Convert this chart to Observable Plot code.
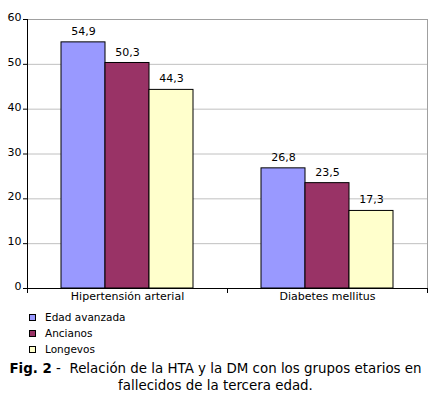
<!DOCTYPE html>
<html><head><meta charset="utf-8">
<script src="https://cdn.jsdelivr.net/npm/d3@7"></script>
<script src="https://cdn.jsdelivr.net/npm/@observablehq/plot@0.6"></script>
<style>
body{margin:0;background:#fff;font-family:"DejaVu Sans",Verdana,sans-serif;color:#000;}
#chart svg{display:block;}
#legend{margin-top:3px;}
.row{height:16px;display:flex;align-items:center;font-size:10.5px;}
.sw{width:5px;height:5px;border:1px solid #000;margin-left:29px;margin-right:9px;}
#cap{text-align:center;font-size:13.4px;line-height:17px;margin-top:3px;white-space:nowrap;}
</style></head><body>
<div id="chart"></div>
<div id="legend"></div>
<div id="cap"><b>Fig. 2</b> -&nbsp; Relación de la HTA y la DM con los grupos etarios en<br>fallecidos de la tercera edad.</div>
<script>
const categories = ["Hipertensión arterial", "Diabetes mellitus"];
const groups = ["Edad avanzada", "Ancianos", "Longevos"];
const hta = [54.9, 50.3, 44.3];
const dm = [26.8, 23.5, 17.3];
const colors = ["#9999ff", "#993366", "#ffffcc"];
const yTicks = [0, 10, 20, 30, 40, 50, 60];

const series = [hta, dm];
const data = categories.flatMap((c, i) => groups.map((g, j) => ({category: c, group: g, value: series[i][j]})));
const fmt = v => d3.format(".1f")(v).replace(".", ",");

const chart = Plot.plot({
  width: 431, height: 306,
  marginTop: 19, marginBottom: 18, marginLeft: 26, marginRight: 4,
  style: {fontFamily: "DejaVu Sans", fontSize: "11px", background: "#fff", color: "#000"},
  fx: {domain: categories, padding: 0},
  x: {domain: groups, paddingInner: 0, paddingOuter: 0.74, axis: null},
  y: {domain: [0, 60]},
  color: {domain: groups, range: colors},
  marks: [
    Plot.gridY(yTicks.slice(1, -1), {stroke: "#c0c0c0", strokeOpacity: 1}),
    Plot.ruleY([60], {stroke: "#a0a0a0"}),
    Plot.frame({anchor: "right", stroke: "#a0a0a0", fx: () => categories[1]}),
    Plot.barY(data, {fx: "category", x: "group", y: "value", fill: "group", stroke: "#000", strokeWidth: 1}),
    Plot.text(data, {fx: "category", x: "group", y: "value", text: d => fmt(d.value), dy: -11, fill: "#000"}),
    Plot.frame({anchor: "left", stroke: "#000", fx: () => categories[0]}),
    Plot.ruleY([0], {stroke: "#000"}),
    Plot.frame({anchor: "left", stroke: "#000", insetTop: 269, insetBottom: -4}),
    Plot.frame({anchor: "right", stroke: "#000", insetTop: 269, insetBottom: -4}),
    Plot.axisY({ticks: yTicks, tickSize: 4, tickFormat: () => "", label: null}),
    Plot.axisY({ticks: yTicks, tickSize: 0, tickPadding: 6, dy: -2, label: null}),
    Plot.axisFx({anchor: "bottom", tickSize: 0, tickPadding: 4, label: null})
  ]
});
document.getElementById("chart").appendChild(chart);

const legend = d3.select("#legend");
groups.forEach((g, i) => {
  const row = legend.append("div").attr("class", "row");
  row.append("div").attr("class", "sw").style("background", colors[i]);
  row.append("span").text(g);
});
</script>
</body></html>
